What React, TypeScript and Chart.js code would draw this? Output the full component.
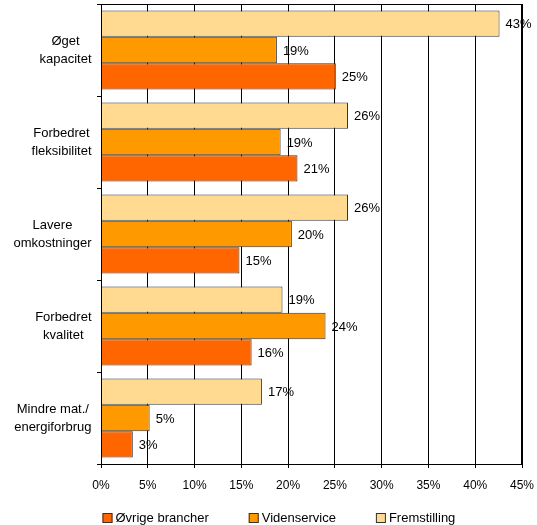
import React, { useEffect, useRef } from "react";
import { Chart, registerables } from "chart.js";

Chart.register(...registerables);

const categories: string[][] = [
  ["Øget", "kapacitet"],
  ["Forbedret", "fleksibilitet"],
  ["Lavere", "omkostninger"],
  ["Forbedret", "kvalitet"],
  ["Mindre mat./", "energiforbrug"],
];

const fremstilling = [42.6, 26.4, 26.4, 19.4, 17.2];
const videnservice = [18.8, 19.2, 20.4, 24.0, 5.2];
const ovrige = [25.1, 21.0, 14.8, 16.1, 3.4];

const seriesNames = ["Fremstilling", "Videnservice", "Øvrige brancher"];
const seriesColors = ["#FFDA90", "#FF9900", "#FF6600"];
const legendOrder = [2, 1, 0];

const xTicks = [0, 5, 10, 15, 20, 25, 30, 35, 40, 45];

const FONT = "'Liberation Sans', Arial, sans-serif";

export default function App() {
  const ref = useRef<HTMLCanvasElement | null>(null);

  useEffect(() => {
    document.body.style.margin = "0";
    document.body.style.overflow = "hidden";
    const canvas = ref.current;
    if (!canvas) return;

    const framePlugin = {
      id: "frame",
      afterDraw(chart: any) {
        const { ctx, chartArea } = chart;
        ctx.save();
        ctx.strokeStyle = "#000";
        ctx.lineWidth = 1;
        ctx.strokeRect(
          Math.round(chartArea.left) + 0.5,
          Math.round(chartArea.top) + 0.5,
          Math.round(chartArea.right - chartArea.left) - 1,
          Math.round(chartArea.bottom - chartArea.top)
        );
        ctx.restore();
      },
    };

    const dataLabelPlugin = {
      id: "dataLabels",
      afterDatasetsDraw(chart: any) {
        const { ctx } = chart;
        ctx.save();
        ctx.font = `13px ${FONT}`;
        ctx.fillStyle = "#000";
        ctx.textBaseline = "middle";
        ctx.textAlign = "left";
        chart.data.datasets.forEach((ds: any, di: number) => {
          const meta = chart.getDatasetMeta(di);
          meta.data.forEach((el: any, i: number) => {
            const v = ds.data[i] as number;
            ctx.fillText(Math.round(v) + "%", el.x + 6, el.y + 1);
          });
        });
        ctx.restore();
      },
    };

    const catLabelPlugin = {
      id: "catLabels",
      afterDraw(chart: any) {
        const { ctx, chartArea } = chart;
        const yScale = chart.scales.y;
        ctx.save();
        ctx.font = `13px ${FONT}`;
        ctx.fillStyle = "#000";
        ctx.textBaseline = "middle";
        ctx.textAlign = "center";
        const lh = 18.5;
        const right = chartArea.left - 9.5;
        categories.forEach((lines, i) => {
          const y = yScale.getPixelForValue(i) + 0.5;
          const widest = Math.max(...lines.map((l) => ctx.measureText(l).width));
          const cx = right - widest / 2;
          const y0 = y - ((lines.length - 1) * lh) / 2;
          lines.forEach((l, k) => ctx.fillText(l, cx, y0 + k * lh));
        });
        ctx.restore();
      },
    };

    const legendPlugin = {
      id: "customLegend",
      afterDraw(chart: any) {
        const { ctx, chartArea } = chart;
        ctx.save();
        ctx.font = `13px ${FONT}`;
        ctx.textBaseline = "middle";
        ctx.textAlign = "left";
        let x = chartArea.left + 1.5;
        const y = 518;
        legendOrder.forEach((si) => {
          ctx.fillStyle = seriesColors[si];
          ctx.fillRect(x, y - 5, 10, 10);
          ctx.strokeStyle = "#333";
          ctx.lineWidth = 1;
          ctx.strokeRect(x + 0.5, y - 4.5, 9, 9);
          ctx.fillStyle = "#000";
          ctx.fillText(seriesNames[si], x + 13, y);
          x += 13 + ctx.measureText(seriesNames[si]).width + 40;
        });
        ctx.restore();
      },
    };

    const chart = new Chart(canvas, {
      type: "bar",
      data: {
        labels: categories.map((c) => c.join(" ")),
        datasets: [fremstilling, videnservice, ovrige].map((d, i) => ({
          label: seriesNames[i],
          data: d,
          backgroundColor: seriesColors[i],
          borderColor: "#333",
          borderWidth: 1,
          categoryPercentage: 0.86,
          barPercentage: 1,
        })),
      },
      options: {
        indexAxis: "y",
        animation: false,
        responsive: false,
        maintainAspectRatio: false,
        layout: { padding: { left: 0, right: 15, top: 4, bottom: 31 } },
        plugins: {
          legend: { display: false },
          tooltip: { enabled: false },
        },
        scales: {
          x: {
            type: "linear",
            min: 0,
            max: 45,
            afterBuildTicks: (s: any) => {
              s.ticks = xTicks.map((v) => ({ value: v }));
            },
            afterFit: (s: any) => {
              s.height = 30;
              s.paddingRight = 0;
              s.paddingLeft = 0;
            },
            grid: {
              color: "#000",
              lineWidth: 1,
              drawTicks: true,
              tickLength: 4,
            },
            border: { color: "#000" },
            ticks: {
              color: "#000",
              font: { family: FONT, size: 12 },
              padding: 10,
              maxRotation: 0,
              callback: (v: any) => v + "%",
            },
          },
          y: {
            type: "category",
            offset: true,
            afterFit: (s: any) => {
              s.width = 101;
            },
            grid: {
              offset: true,
              drawOnChartArea: false,
              drawTicks: true,
              tickLength: 4,
              color: "#000",
            },
            border: { color: "#000" },
            ticks: { display: false },
          },
        },
      },
      plugins: [framePlugin, dataLabelPlugin, catLabelPlugin, legendPlugin],
    } as any);

    return () => chart.destroy();
  }, []);

  return (
    <div style={{ width: 537, height: 525 }}>
      <canvas ref={ref} width={537} height={525} style={{ display: "block" }} />
    </div>
  );
}
